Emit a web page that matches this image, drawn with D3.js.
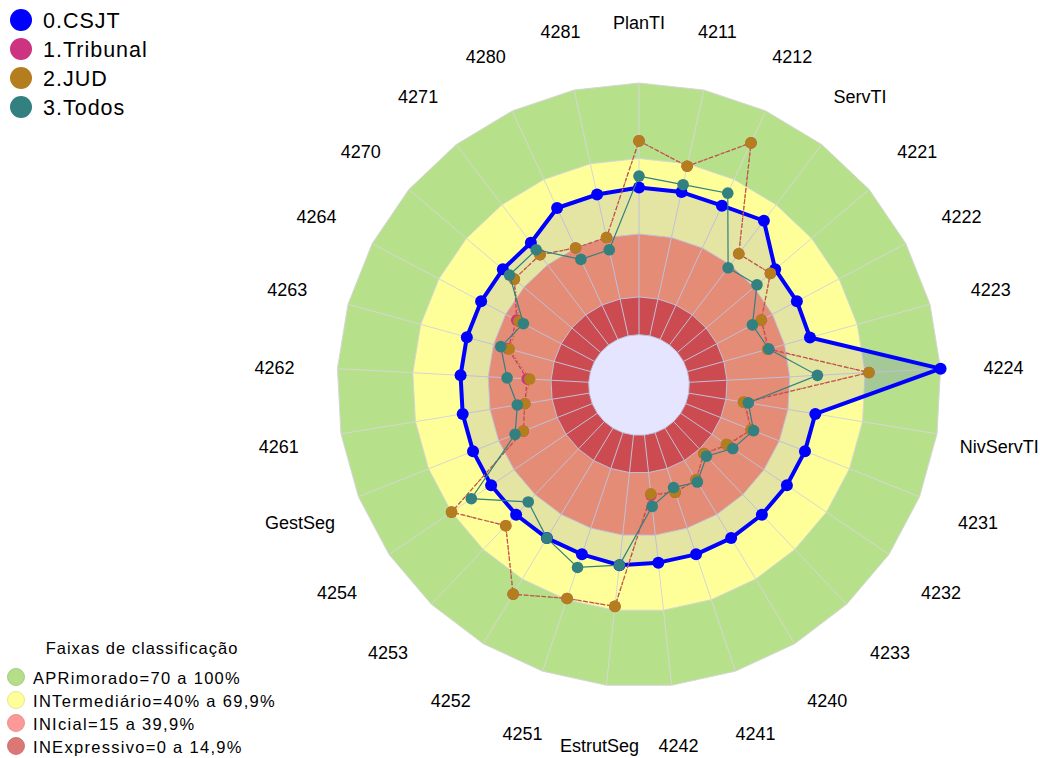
<!DOCTYPE html>
<html>
<head>
<meta charset="UTF-8">
<script src="https://cdn.jsdelivr.net/npm/d3@7"></script>
<style>
body {margin: 0; background: #fff;}
text {font-family: "Liberation Sans", Arial, sans-serif; fill: #000;}
</style>
</head>
<body>
<svg id="radar" width="1041" height="758"></svg>
<script>
// eixos, no sentido horario a partir do topo
var axes = ["PlanTI", "4211", "4212", "ServTI", "4221", "4222", "4223", "4224", "NivServTI",
            "4231", "4232", "4233", "4240", "4241", "4242", "EstrutSeg", "4251", "4252",
            "4253", "4254", "GestSeg", "4261", "4262", "4263", "4264", "4270", "4271", "4280", "4281"];

var csjt     = [58.5, 58.5, 58.5, 62, 51, 51, 50.5, 100, 51, 51, 51, 51, 51, 51, 51,
                52, 51, 51, 51, 51, 51, 51, 51, 51, 51, 51, 51, 57.5, 57.5];
var tribunal = [77, 69, 86, 45.5, 48.5, 35, 33.5, 71.5, 22.5, 28, 22.5, 17.5, 24, 25, 24,
                68.5, 69.5, 77, 57, 70, 29.5, 26, 24.5, 34, 35, 45, 45, 40, 40];
var jud      = [77, 69, 86, 45.5, 48.5, 35, 33, 71.5, 22, 28, 22, 17.5, 24, 25, 23.5,
                68.5, 69.5, 77, 57, 70, 29.5, 26, 23.5, 33.5, 34, 45, 45, 40, 40];
var todos    = [63, 61.5, 64, 38.5, 41.5, 31, 33.5, 51, 24, 29, 25, 19, 25, 23, 28.5,
                52, 56.5, 51, 44, 60.5, 33, 29, 32.5, 37, 32, 47.5, 47.5, 35, 35];

var seriesNames = ["0.CSJT", "1.Tribunal", "2.JUD", "3.Todos"];
var seriesColors = ["#0000FF", "#CC3380", "#B47D1E", "#328080"];

var bandLimits = [100, 70, 40, 15, 0];
var bandFill = ["#B7E08B", "#FFFF99", "#FF9C67", "#E3543D", "#FFFFFF"];
var bandNames = ["APRimorado=70 a 100%", "INTermediário=40% a 69,9%", "INIcial=15 a 39,9%", "INExpressivo=0 a 14,9%"];
var bandLegendColors = ["#B4DE87", "#FFFF99", "#FF9999", "#DD7777"];

var H = 758, cx = 639, cy = 385, R = 302;
var svg = d3.select("#radar");
var g = svg.append("g").attr("transform", "translate(" + cx + "," + cy + ")");

var n = axes.length;
var angle = d3.scaleLinear().domain([0, n]).range([0, 2 * Math.PI]);
var rScale = d3.scaleLinear().domain([0, 100]).range([R / 6, R]);

var radial = d3.lineRadial()
    .angle(function(d, i) { return angle(i); })
    .radius(function(d) { return rScale(d); })
    .curve(d3.curveLinearClosed);

function ring(v) { return axes.map(function() { return v; }); }

// faixas
g.selectAll("path.band").data(bandLimits).enter().append("path")
    .attr("class", "band")
    .attr("d", function(v) { return radial(ring(v)); })
    .attr("fill", function(v, i) { return bandFill[i]; })
    .attr("stroke", "#D6D6D6").attr("stroke-width", 1);

// raios
g.selectAll("line.spoke").data(axes).enter().append("line")
    .attr("class", "spoke")
    .attr("x1", function(d, i) { return rScale(0) * Math.sin(angle(i)); })
    .attr("y1", function(d, i) { return -rScale(0) * Math.cos(angle(i)); })
    .attr("x2", function(d, i) { return rScale(100) * Math.sin(angle(i)); })
    .attr("y2", function(d, i) { return -rScale(100) * Math.cos(angle(i)); })
    .attr("stroke", "#D6D6D6").attr("stroke-width", 1);

function px(v, i) { return rScale(v) * Math.sin(angle(i)); }
function py(v, i) { return -rScale(v) * Math.cos(angle(i)); }

// CSJT
g.append("path").attr("d", radial(csjt))
    .attr("fill", "rgba(0,0,255,0.1)")
    .attr("stroke", seriesColors[0]).attr("stroke-width", 4).attr("stroke-linejoin", "round");
g.selectAll("circle.csjt").data(csjt).enter().append("circle")
    .attr("cx", px).attr("cy", py).attr("r", 6).attr("fill", seriesColors[0]);

function drawSeries(vals, color, dash) {
    g.append("path").attr("d", radial(vals))
        .attr("fill", "none").attr("stroke", color).attr("stroke-width", 1.2)
        .attr("stroke-dasharray", dash);
    g.append("g").selectAll("circle").data(vals).enter().append("circle")
        .attr("cx", px).attr("cy", py).attr("r", 5.8).attr("fill", color);
}
drawSeries(tribunal, seriesColors[1], "4,2");
drawSeries(jud, seriesColors[2], "1.5,2");
drawSeries(todos, seriesColors[3], null);

// rotulos (sem passar da borda de baixo)
var labelR = 365;
g.selectAll("text.axis").data(axes).enter().append("text")
    .attr("class", "axis")
    .attr("x", function(d, i) { return labelR * Math.sin(angle(i)); })
    .attr("y", function(d, i) { return Math.min(-labelR * Math.cos(angle(i)) + 3, H - 12 - cy); })
    .attr("text-anchor", "middle").attr("dominant-baseline", "central")
    .style("font-size", "18px")
    .text(function(d) { return d; });

// legenda series
var leg = svg.append("g");
leg.selectAll("circle").data(seriesNames).enter().append("circle")
    .attr("cx", 21).attr("cy", function(d, i) { return 20 + i * 29; })
    .attr("r", 11).attr("fill", function(d, i) { return seriesColors[i]; });
leg.selectAll("text").data(seriesNames).enter().append("text")
    .attr("x", 43).attr("y", function(d, i) { return 21 + i * 29; })
    .attr("dominant-baseline", "central")
    .style("font-size", "21.5px").style("letter-spacing", "1px")
    .text(function(d) { return d; });

// legenda faixas
var leg2 = svg.append("g");
leg2.append("text").attr("x", 142).attr("y", 648)
    .attr("text-anchor", "middle").attr("dominant-baseline", "central")
    .style("font-size", "16.5px").style("letter-spacing", "1px")
    .text("Faixas de classificação");
leg2.selectAll("circle").data(bandNames).enter().append("circle")
    .attr("cx", 16).attr("cy", function(d, i) { return 677 + i * 23; })
    .attr("r", 8.5).attr("fill", function(d, i) { return bandLegendColors[i]; })
    .attr("stroke", function(d, i) { return d3.color(bandLegendColors[i]).darker(0.4); })
    .attr("stroke-width", 0.8);
leg2.selectAll("text.item").data(bandNames).enter().append("text")
    .attr("class", "item")
    .attr("x", 33).attr("y", function(d, i) { return 678 + i * 23; })
    .attr("dominant-baseline", "central")
    .style("font-size", "16.5px").style("letter-spacing", "1.3px")
    .text(function(d) { return d; });
</script>
</body>
</html>
